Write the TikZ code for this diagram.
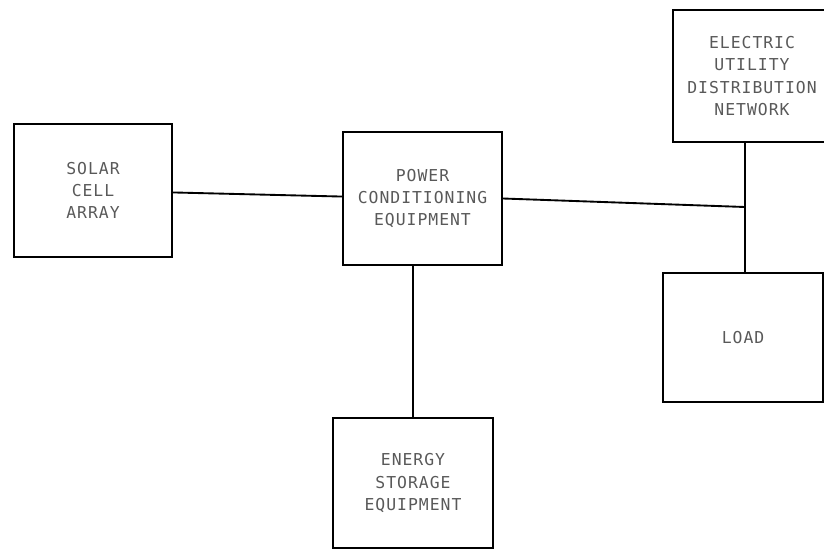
\documentclass[tikz,border=0pt]{standalone}
\usepackage{fontspec}
\newfontfamily\lettering[LetterSpace=6]{DejaVu Sans Mono}
\begin{document}
\begin{tikzpicture}
    [x=0.03cm,y=-0.03cm,
     unit/.style={shape=rectangle,draw=black,line width=2pt,align=center,
       text=black!65,font=\lettering\fontsize{14}{19}\selectfont},
     link/.style={draw=black,line width=1.6pt}]
    \useasboundingbox (0,0) rectangle (824,551);
    \node [unit,minimum width=4.74cm,minimum height=3.99cm] (a) at (93,190.5) {SOLAR\\CELL\\ARRAY};
    \node [unit,minimum width=4.77cm,minimum height=3.99cm] (p) at (422.5,198.5) {POWER\\CONDITIONING\\EQUIPMENT}
      edge [link] (a);
    \node [unit,minimum width=4.74cm,minimum height=3.96cm] (u) at (752,76) {ELECTRIC\\UTILITY\\DISTRIBUTION\\NETWORK};
    \node [unit,minimum width=4.8cm,minimum height=3.87cm] (l) at (743,337.5) {LOAD};
    \node [unit,minimum width=4.8cm,minimum height=3.9cm] (s) at (413,483) {ENERGY\\STORAGE\\EQUIPMENT};
    \coordinate (j) at (745,207);
    \draw [link] (p.east) -- (j);
    \draw [link] (u.south -| j) -- (l.north -| j);
    \draw [link] (s.north |- p.south) -- (s.north);
  \end{tikzpicture}
\end{document}
